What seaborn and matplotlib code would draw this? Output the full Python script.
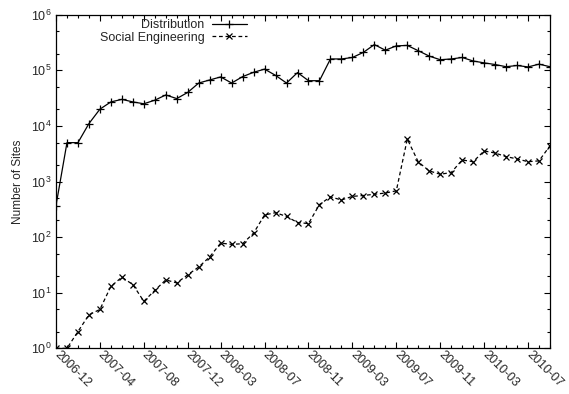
import numpy as np
import pandas as pd
import matplotlib
matplotlib.use("Agg")
import matplotlib.pyplot as plt
from matplotlib.ticker import LogLocator, NullFormatter, FixedLocator, MultipleLocator
import seaborn as sns

# Monthly counts, Dec 2006 through Sep 2010
start_month = "2006-12"
end_month = "2010-09"

distribution = [
    370, 5000, 5000, 11000, 20000, 27000, 30000, 27000, 25000, 29000,
    36000, 31000, 40000, 59000, 67000, 76000, 59000, 77000, 92000, 105000,
    81000, 59000, 91000, 65000, 65000, 160000, 160000, 170000, 210000, 290000,
    230000, 275000, 280000, 225000, 180000, 155000, 160000, 170000, 147000, 136000,
    127000, 116000, 122000, 115000, 129000, 116000,
]

social_engineering = [
    1, 1, 2, 4, 5, 13, 19, 14, 7, 11,
    17, 15, 21, 29, 44, 78, 74, 76, 118, 250,
    275, 235, 183, 175, 385, 530, 465, 540, 560, 590,
    620, 680, 5800, 2250, 1550, 1350, 1450, 2440, 2270, 3550,
    3250, 2800, 2550, 2270, 2350, 4400,
]

tick_labels = [
    "2006-12", "2007-04", "2007-08", "2007-12", "2008-03", "2008-07",
    "2008-11", "2009-03", "2009-07", "2009-11", "2010-03", "2010-07",
]

months = pd.period_range(start_month, end_month, freq="M")
origin = pd.Period(start_month, freq="M")
month_idx = np.array([(m - origin).n for m in months])
tick_pos = [(pd.Period(t, freq="M") - origin).n for t in tick_labels]

df = pd.DataFrame({
    "month": month_idx,
    "Distribution": distribution,
    "Social Engineering": social_engineering,
})

sns.set_style("ticks")
plt.rcParams["font.family"] = ["Liberation Sans", "DejaVu Sans"]
plt.rcParams["mathtext.default"] = "regular"

fig = plt.figure(figsize=(5.69, 3.94), dpi=100)
ax = fig.add_axes([56 / 569, 1 - 348.3 / 394, (550 - 56) / 569, (348.3 - 14.7) / 394])

sns.lineplot(data=df, x="month", y="Distribution", ax=ax, color="black",
             linewidth=0.9, marker="+", markersize=6, mec="black", mew=0.9,
             label="Distribution", legend=False)
sns.lineplot(data=df, x="month", y="Social Engineering", ax=ax, color="black",
             linewidth=0.9, linestyle=(0, (3.0, 2.2)), marker="x", markersize=4.8,
             mec="black", mew=0.9, label="Social Engineering", legend=False)

ax.set_yscale("log")
ax.set_ylim(1, 1e6)
ax.set_xlim(0, 45)

ax.yaxis.set_major_locator(LogLocator(base=10, numticks=10))
ax.yaxis.set_minor_locator(LogLocator(base=10, subs=(2.0, 5.0), numticks=20))
ax.yaxis.set_minor_formatter(NullFormatter())

ax.xaxis.set_major_locator(FixedLocator(tick_pos))
ax.xaxis.set_minor_locator(MultipleLocator(1))
ax.set_xticks(tick_pos)
ax.set_xticklabels(tick_labels, rotation=-45, ha="left", va="center",
                   rotation_mode="anchor", fontsize=9)

ax.tick_params(axis="both", which="both", direction="in", top=True, right=True,
               color="black", width=0.8)
ax.tick_params(axis="both", which="major", length=4.5, labelsize=9, pad=3)
ax.tick_params(axis="both", which="minor", length=2.5)
ax.tick_params(axis="x", which="major", pad=3.5)

for s in ax.spines.values():
    s.set_linewidth(0.9)
    s.set_color("black")

ax.set_xlabel("")
ax.set_ylabel("Number of Sites", fontsize=8.5, labelpad=5)

leg = ax.legend(loc="upper right", bbox_to_anchor=(0.395, 1.0), frameon=False,
                markerfirst=False, fontsize=9, handlelength=2.8,
                handletextpad=0.6, labelspacing=0.05, borderaxespad=0.25,
                borderpad=0.1)

fig.savefig("out.png", dpi=100)
